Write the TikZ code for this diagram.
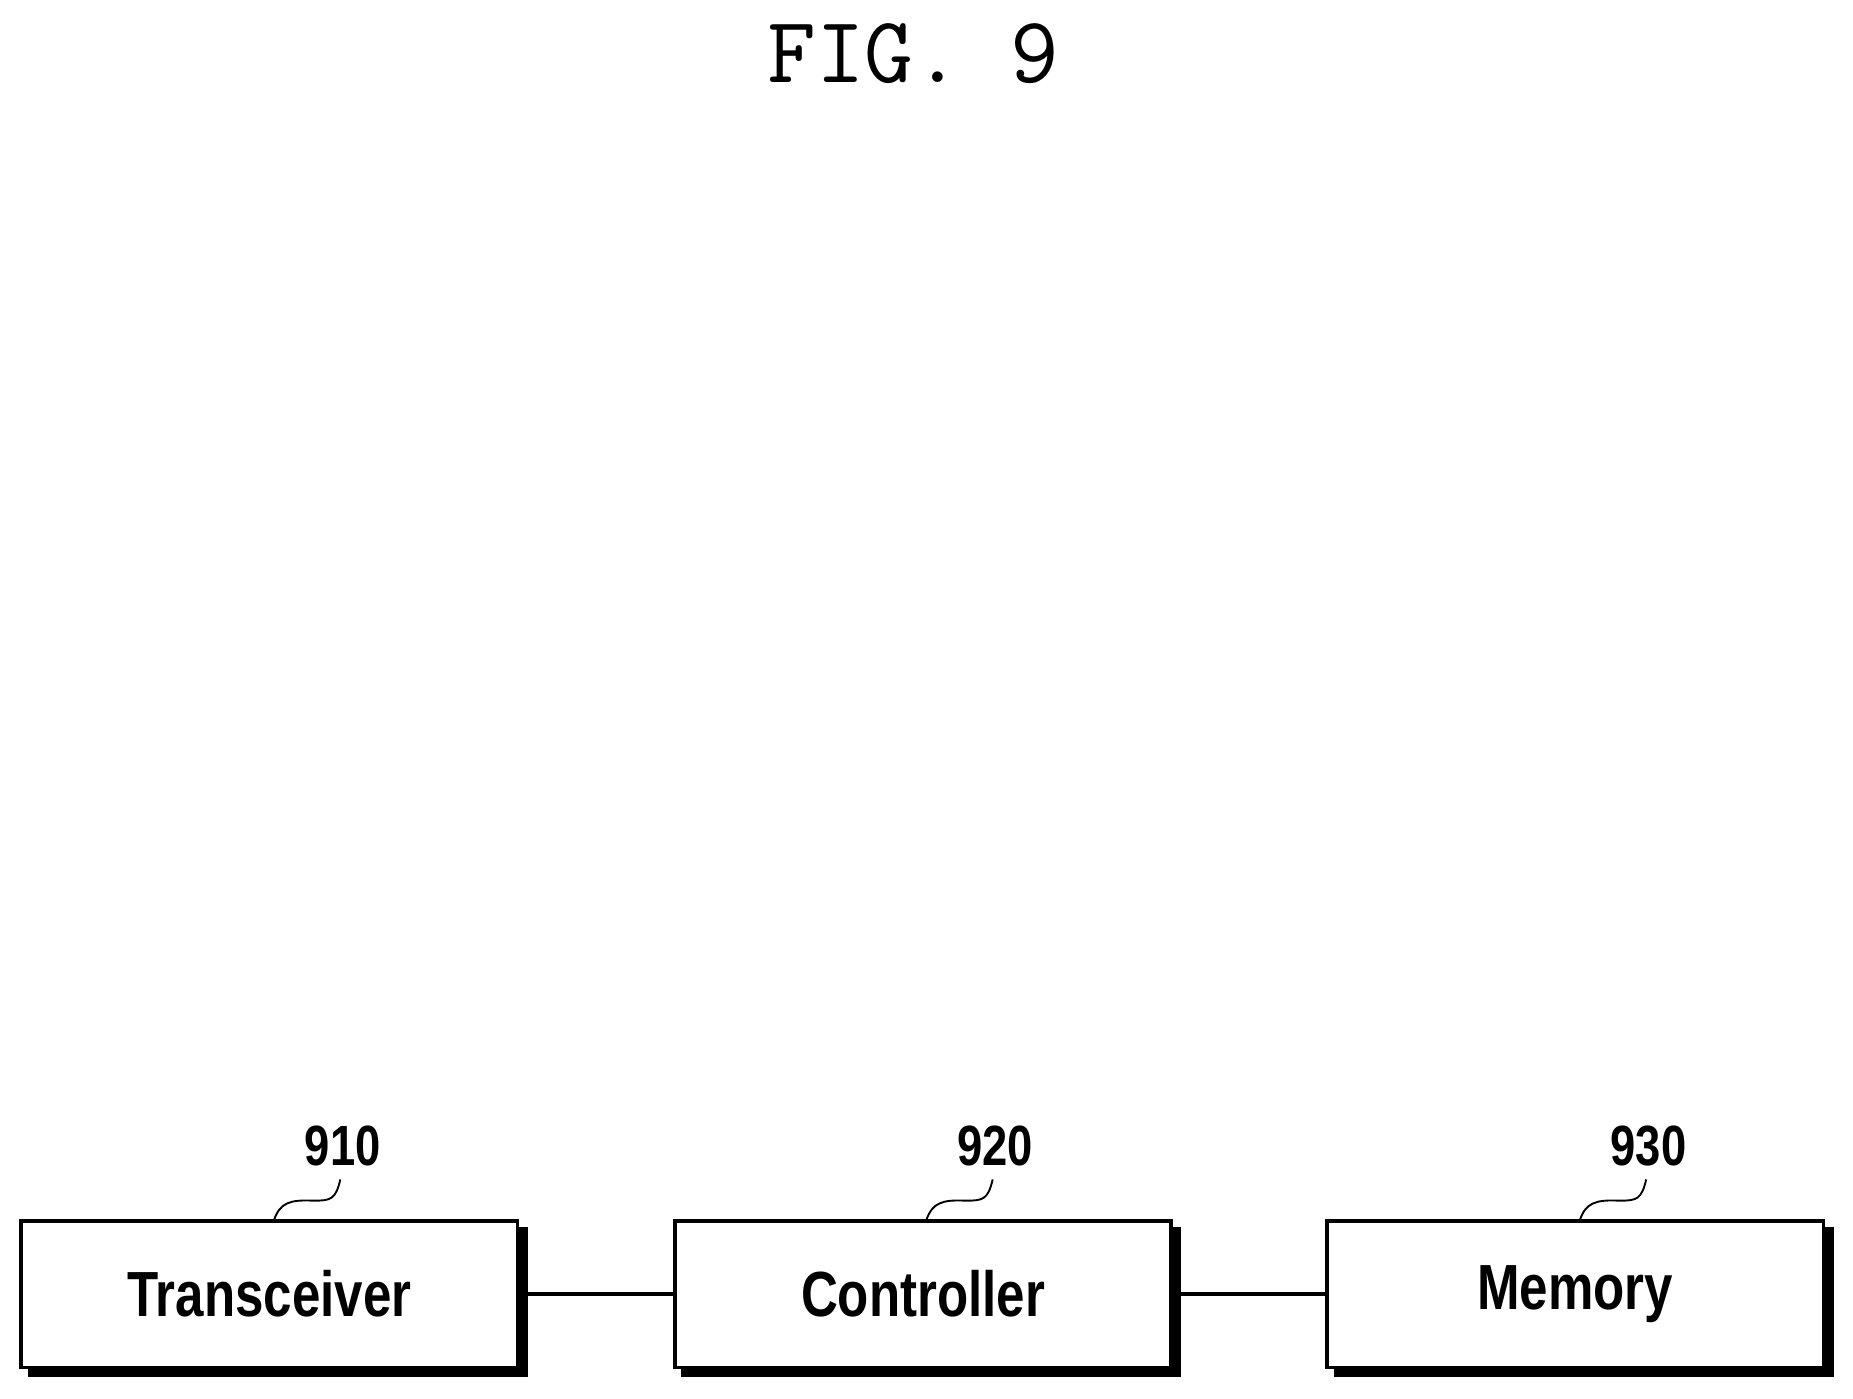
\documentclass[tikz,border=0pt]{standalone}
\usepackage{fontspec}
\setmainfont{Liberation Sans}
\begin{document}
\begin{tikzpicture}[x=0.5pt,y=-0.5pt,
  blk/.style={draw,line width=1.5pt,fill=white,minimum width=210pt,minimum height=62pt,inner sep=0pt,
    font=\fontsize{27}{30}\selectfont\bfseries,
    preaction={fill=black,draw=black,transform canvas={xshift=3.5pt,yshift=-3.5pt}}},
  lbl/.style={font=\fontsize{24}{28}\selectfont\bfseries},
  lead/.style={line width=0.8pt}]
\useasboundingbox (0,0) rectangle (1568,1183);
\node[font=\fontsize{40}{44}\selectfont\ttfamily] (t) at (773,45) {FIG. 9};
\node[blk] (a) at (228,1095) {\scalebox{0.8}[1]{Transceiver}};
\node[blk] (b) at (781,1095) {\scalebox{0.8}[1]{Controller}};
\node[blk] (c) at (1333,1095) {\scalebox{0.8}[1]{Memory}};
\draw[line width=1.5pt] (a.east) -- (b.west);
\draw[line width=1.5pt] (b.east) -- (c.west);
\foreach \n/\lx/\bx/\txt in {la/290/232/910, lb/842/784/920, lc/1395/1337/930}{
  \node[lbl] (\n) at (\lx,970) {\scalebox{0.8}[1]{\txt}};
  \draw[lead] (\lx-2,998) .. controls (\lx-6,1015) and (\lx-10,1016) .. (\lx-25,1016)
     .. controls (\lx-45,1015) and (\bx+5,1018) .. (\bx,1032);
}
\end{tikzpicture}
\end{document}
